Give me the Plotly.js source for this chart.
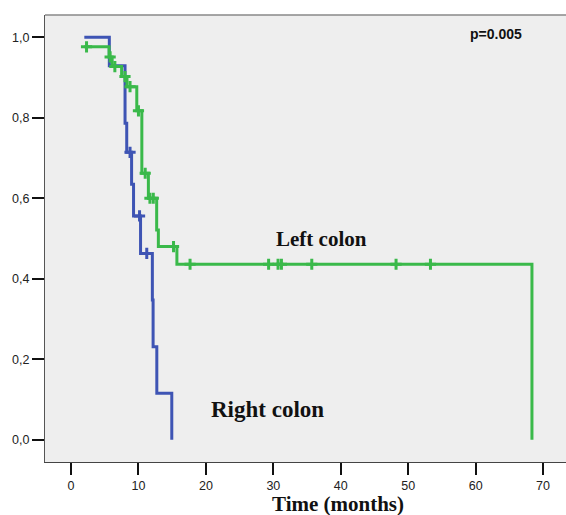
<!DOCTYPE html>
<html>
<head>
<meta charset="utf-8">
<script src="https://cdn.plot.ly/plotly-3.0.1.min.js"></script>
<style>html,body{margin:0;padding:0;background:#fff;}#chart{width:566px;height:515px;}</style>
</head>
<body>
<div id="chart"></div>
<script>
// Right colon (blue) step curve
var rightTimes = [1.97, 5.68, 8.01, 8.26, 8.98, 9.27, 10.31, 12.06, 12.17, 12.72, 14.94];
var rightSurv  = [1.0, 0.929, 0.786, 0.714, 0.635, 0.556, 0.463, 0.347, 0.231, 0.116, 0.0];
var rightCensTimes = [8.75, 10.16, 11.23];
var rightCensSurv  = [0.714, 0.556, 0.463];

// Left colon (green) step curve
var leftTimes = [1.97, 5.64, 6.1, 7.5, 8.3, 9.75, 10.5, 11.47, 12.7, 12.95, 15.7, 68.35];
var leftSurv  = [0.976, 0.951, 0.927, 0.902, 0.877, 0.817, 0.662, 0.600, 0.521, 0.480, 0.436, 0.0];
var leftCensTimes = [2.3, 5.8, 6.5, 8.0, 8.75, 10.0, 11.0, 11.7, 12.2, 15.2, 17.65, 29.3, 30.7, 31.2, 35.7, 48.2, 53.3];
var leftCensSurv  = [0.976, 0.951, 0.927, 0.902, 0.877, 0.817, 0.662, 0.600, 0.600, 0.480, 0.436, 0.436, 0.436, 0.436, 0.436, 0.436, 0.436];

var xTicks = [0, 10, 20, 30, 40, 50, 60, 70];
var yTicks = [0, 0.2, 0.4, 0.6, 0.8, 1.0];

var blue = 'rgb(62,84,180)';
var green = 'rgb(58,185,74)';

var traces = [
  {x: rightTimes, y: rightSurv, mode: 'lines', line: {shape: 'hv', color: blue, width: 3}, hoverinfo: 'skip'},
  {x: rightCensTimes, y: rightCensSurv, mode: 'markers', marker: {symbol: 'cross-thin', size: 8, line: {color: blue, width: 3}, color: blue}, hoverinfo: 'skip'},
  {x: leftTimes, y: leftSurv, mode: 'lines', line: {shape: 'hv', color: green, width: 3}, hoverinfo: 'skip'},
  {x: leftCensTimes, y: leftCensSurv, mode: 'markers', marker: {symbol: 'cross-thin', size: 8, line: {color: green, width: 3}, color: green}, hoverinfo: 'skip'}
];

var layout = {
  width: 566, height: 515,
  margin: {l: 45, r: 0, t: 15, b: 53, pad: 0},
  paper_bgcolor: '#ffffff',
  plot_bgcolor: '#eeeeee',
  showlegend: false,
  separators: ',.',
  font: {family: 'Arial, Liberation Sans, sans-serif', size: 12.5, color: '#222'},
  xaxis: {
    range: [-3.86, 73.4], tickvals: xTicks, ticks: 'outside', ticklen: 12, tickwidth: 2, tickcolor: '#111',
    showline: true, linecolor: '#444', linewidth: 1, showgrid: false, zeroline: false,
    tickfont: {size: 12.5, color: '#222'}, fixedrange: true
  },
  yaxis: {
    range: [-0.055, 1.055], tickvals: yTicks, tickformat: '.1f', ticks: 'outside', ticklen: 12, tickwidth: 2, tickcolor: '#111',
    showline: true, linecolor: '#555', linewidth: 1, showgrid: false, zeroline: false,
    tickfont: {size: 12.5, color: '#222'}, fixedrange: true
  },
  shapes: [
    {type: 'line', xref: 'paper', yref: 'paper', x0: 0, x1: 1, y0: 1, y1: 1, line: {color: '#888', width: 1.5}}
  ],
  annotations: [
    {x: 63.0, y: 1.007, xref: 'x', yref: 'y', text: '<b>p=0.005</b>', showarrow: false, xanchor: 'center', yanchor: 'middle',
     font: {family: 'Arial, Liberation Sans, sans-serif', size: 14, color: '#111'}},
    {x: 37.2, y: 0.499, xref: 'x', yref: 'y', text: '<b>Left colon</b>', showarrow: false, xanchor: 'center', yanchor: 'middle',
     font: {family: 'Liberation Serif, Times New Roman, serif', size: 21, color: '#111'}},
    {x: 29.1, y: 0.076, xref: 'x', yref: 'y', text: '<b>Right colon</b>', showarrow: false, xanchor: 'center', yanchor: 'middle',
     font: {family: 'Liberation Serif, Times New Roman, serif', size: 23, color: '#111'}},
    {x: 0.5, y: -0.1, xref: 'paper', yref: 'paper', text: '<b>Time (months)</b>', showarrow: false, xanchor: 'center', yanchor: 'middle',
     font: {family: 'Liberation Serif, Times New Roman, serif', size: 21, color: '#111'}}
  ]
};
// place the x title at pixel y ~504
layout.annotations[3].y = -(504 - 462) / 447;
layout.annotations[3].x = (337.5 - 45) / 521;

Plotly.newPlot('chart', traces, layout, {displayModeBar: false, staticPlot: true});
</script>
</body>
</html>
